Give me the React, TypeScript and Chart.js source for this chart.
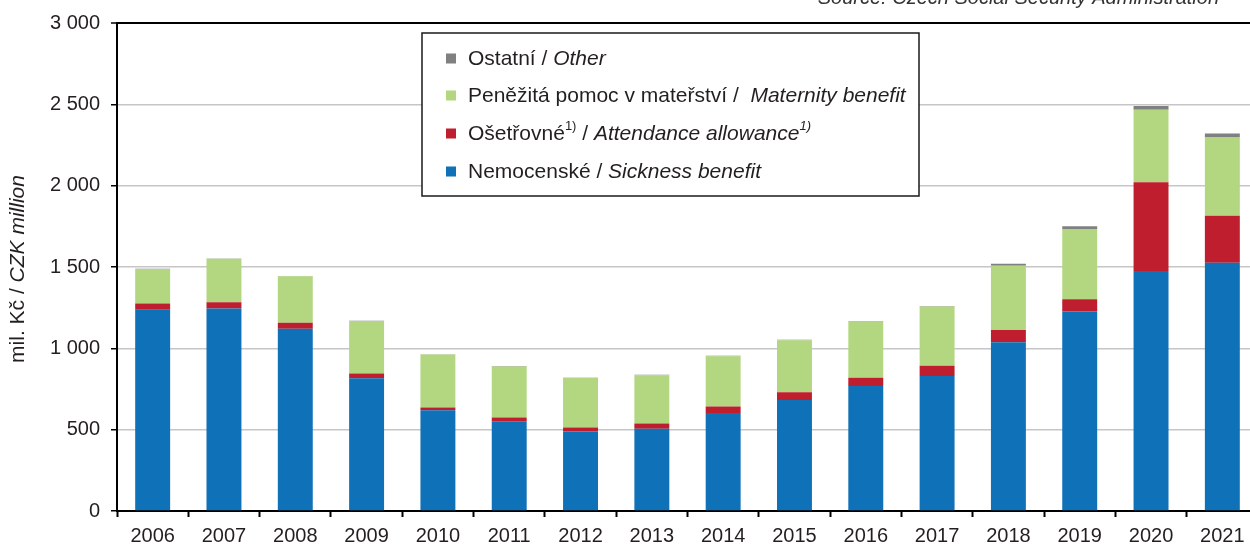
import React, { useEffect, useRef } from "react";
import Chart from "chart.js/auto";

// Sickness insurance benefits by type, CZK million
const years = ["2006", "2007", "2008", "2009", "2010", "2011", "2012", "2013", "2014", "2015", "2016", "2017", "2018", "2019", "2020", "2021"];
const sickness = [1237, 1245, 1121, 816, 620, 551, 488, 506, 602, 683, 769, 830, 1037, 1227, 1476, 1526];
const attendance = [39, 39, 37, 30, 16, 24, 26, 32, 40, 47, 50, 63, 76, 75, 545, 289];
const maternity = [212, 267, 285, 322, 326, 314, 303, 296, 310, 320, 345, 364, 395, 428, 446, 481];
const other = [2, 2, 2, 2, 2, 2, 2, 3, 2, 2, 3, 3, 12, 20, 23, 24];

const yTicks = [0, 500, 1000, 1500, 2000, 2500, 3000];

const FONT = "'Liberation Sans', Arial, sans-serif";
const TEXT = "#231f20";

const COLORS = {
  sickness: "#0f71b8",
  attendance: "#be1e2d",
  maternity: "#b2d780",
  other: "#808080",
};

type Run = { text: string; italic?: boolean; sup?: boolean };

const legendItems: { color: string; runs: Run[] }[] = [
  { color: COLORS.other, runs: [{ text: "Ostatní / " }, { text: "Other", italic: true }] },
  {
    color: COLORS.maternity,
    runs: [{ text: "Peněžitá pomoc v mateřství /  " }, { text: "Maternity benefit", italic: true }],
  },
  {
    color: COLORS.attendance,
    runs: [
      { text: "Ošetřovné" },
      { text: "1)", sup: true },
      { text: " / " },
      { text: "Attendance allowance", italic: true },
      { text: "1)", italic: true, sup: true },
    ],
  },
  {
    color: COLORS.sickness,
    runs: [{ text: "Nemocenské / " }, { text: "Sickness benefit", italic: true }],
  },
];

function drawRuns(ctx: CanvasRenderingContext2D, x: number, y: number, runs: Run[], size: number) {
  let cx = x;
  for (const r of runs) {
    const s = r.sup ? Math.round(size * 0.6) : size;
    ctx.font = `${r.italic ? "italic " : ""}${s}px ${FONT}`;
    ctx.fillText(r.text, cx, r.sup ? y - size * 0.38 : y);
    cx += ctx.measureText(r.text).width;
  }
}

const extras = {
  id: "extras",
  afterDraw(chart: any) {
    const ctx: CanvasRenderingContext2D = chart.ctx;
    ctx.save();
    ctx.fillStyle = TEXT;
    ctx.textBaseline = "alphabetic";

    // source note at the very top
    ctx.font = `italic 20px ${FONT}`;
    ctx.textAlign = "right";
    ctx.fillStyle = "#333";
    ctx.fillText("Source: Czech Social Security Administration", 1219, 4);

    // y axis title
    ctx.save();
    ctx.translate(24, 269);
    ctx.rotate(-Math.PI / 2);
    ctx.textAlign = "left";
    ctx.fillStyle = TEXT;
    const titleRuns: Run[] = [{ text: "mil. Kč / " }, { text: "CZK million", italic: true }];
    let total = 0;
    for (const r of titleRuns) {
      ctx.font = `${r.italic ? "italic " : ""}21px ${FONT}`;
      total += ctx.measureText(r.text).width;
    }
    drawRuns(ctx, -total / 2, 0, titleRuns, 21);
    ctx.restore();

    // legend box
    const bx = 422, by = 33, bw = 497, bh = 163;
    ctx.fillStyle = "#fff";
    ctx.fillRect(bx, by, bw, bh);
    ctx.strokeStyle = "#1a1a1a";
    ctx.lineWidth = 1.5;
    ctx.strokeRect(bx, by, bw, bh);

    const rowY = [58.5, 95.5, 133.5, 171.5];
    ctx.textAlign = "left";
    ctx.textBaseline = "middle";
    legendItems.forEach((item, i) => {
      ctx.fillStyle = item.color;
      ctx.fillRect(446, rowY[i] - 5, 10, 10);
      ctx.fillStyle = TEXT;
      drawRuns(ctx, 468, rowY[i] + 1, item.runs, 21);
    });
    ctx.restore();
  },
};

export default function App() {
  const canvasRef = useRef<HTMLCanvasElement | null>(null);

  useEffect(() => {
    document.documentElement.style.overflow = "hidden";
    document.body.style.margin = "0";
    const canvas = canvasRef.current;
    if (!canvas) return;

    const mk = (label: string, data: number[], color: string) => ({
      label,
      data,
      backgroundColor: color,
      borderWidth: 0,
      barPercentage: 0.49,
      categoryPercentage: 1,
    });

    const chart = new Chart(canvas, {
      type: "bar",
      data: {
        labels: years,
        datasets: [
          mk("Nemocenské / Sickness benefit", sickness, COLORS.sickness),
          mk("Ošetřovné / Attendance allowance", attendance, COLORS.attendance),
          mk("Peněžitá pomoc v mateřství / Maternity benefit", maternity, COLORS.maternity),
          mk("Ostatní / Other", other, COLORS.other),
        ],
      },
      options: {
        responsive: false,
        animation: false,
        layout: { padding: { top: 20, right: 0, bottom: 0, left: 0 } },
        plugins: {
          legend: { display: false },
          tooltip: { enabled: false },
          title: { display: false },
        },
        scales: {
          x: {
            stacked: true,
            offset: true,
            border: { display: true, color: "#000", width: 2 },
            grid: {
              display: true,
              offset: true,
              drawOnChartArea: false,
              drawTicks: true,
              tickLength: 6,
              tickColor: "#000",
              tickWidth: 2,
            },
            ticks: {
              color: TEXT,
              font: { family: FONT, size: 20 },
              padding: 7,
              maxRotation: 0,
              autoSkip: false,
            },
            afterFit: (scale: any) => {
              scale.height = 33;
            },
          },
          y: {
            stacked: true,
            min: 0,
            max: 3000,
            afterBuildTicks: (scale: any) => {
              scale.ticks = yTicks.map((v) => ({ value: v }));
            },
            border: { display: true, color: "#000", width: 2 },
            grid: {
              color: (c: any) => (c.tick && c.tick.value === 3000 ? "#000" : "#c6c6c6"),
              lineWidth: (c: any) => (c.tick && c.tick.value === 3000 ? 2 : 1.5),
              tickColor: "#000",
              tickWidth: 1.5,
              tickLength: 6,
            },
            ticks: {
              color: TEXT,
              font: { family: FONT, size: 20 },
              padding: 11,
              callback: (v: any) => {
                const n = Number(v);
                return n >= 1000 ? `${Math.floor(n / 1000)} ${String(n % 1000).padStart(3, "0")}` : String(n);
              },
            },
            afterFit: (scale: any) => {
              scale.width = 117;
            },
          },
        },
      },
      plugins: [extras],
    });

    return () => chart.destroy();
  }, []);

  return (
    <div style={{ position: "fixed", left: 0, top: 0, width: 1258, height: 544, background: "#fff" }}>
      <canvas ref={canvasRef} width={1258} height={544} style={{ display: "block" }} />
    </div>
  );
}
